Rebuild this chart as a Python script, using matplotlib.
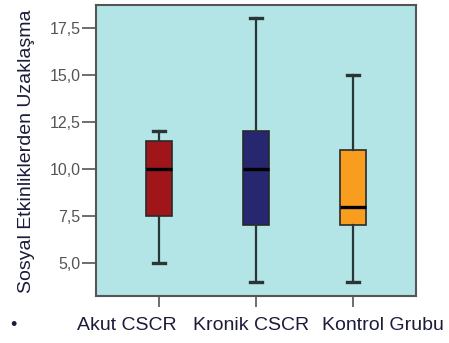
import matplotlib
matplotlib.use("Agg")
import matplotlib.pyplot as plt
from matplotlib.ticker import FixedLocator, FuncFormatter

plt.rcParams['font.family'] = ['Liberation Sans', 'DejaVu Sans']

categories = ["Akut CSCR", "Kronik CSCR", "Kontrol Grubu"]
whisker_low = [5.0, 4.0, 4.0]
q1 = [7.5, 7.0, 7.0]
medians = [10.0, 10.0, 8.0]
q3 = [11.5, 12.0, 11.0]
whisker_high = [12.0, 18.0, 15.0]
colors = ["#a01519", "#26276e", "#f99d1f"]
yticks = [5.0, 7.5, 10.0, 12.5, 15.0, 17.5]

# horizontal centres of the category captions, in figure pixels
caption_x = [127, 251, 383]

stats = [
    dict(label=c, whislo=lo, q1=a, med=m, q3=b, whishi=hi, fliers=[])
    for c, lo, a, m, b, hi in zip(categories, whisker_low, q1, medians, q3, whisker_high)
]

W, H = 449, 343
fig = plt.figure(figsize=(W / 100, H / 100), dpi=100)
ax = fig.add_axes([96 / W, 1 - 296 / H, 320 / W, 291 / H])
ax.set_facecolor("#b3e5e6")

bp = ax.bxp(stats, positions=[1, 2, 3], widths=0.26, patch_artist=True,
            showfliers=False,
            boxprops=dict(edgecolor="#2a2a2a", linewidth=1.2),
            medianprops=dict(color="black", linewidth=2.4),
            whiskerprops=dict(color="#2a3535", linewidth=1.6),
            capprops=dict(color="#2a3535", linewidth=2.4),
            capwidths=0.13)
for patch, col in zip(bp["boxes"], colors):
    patch.set_facecolor(col)

ax.set_xlim(0.35, 3.65)
ax.set_ylim(3.25, 18.7)
ax.yaxis.set_major_locator(FixedLocator(yticks))
ax.yaxis.set_major_formatter(FuncFormatter(lambda v, p: f"{v:.1f}".replace(".", ",")))
ax.set_xticks([1, 2, 3])
ax.set_xticklabels([])

for s in ax.spines.values():
    s.set_color("#555555")
    s.set_linewidth(1.5)

ax.tick_params(axis="y", direction="out", length=10, width=1.2, color="#555555",
               labelcolor="#555555", labelsize=11.5, pad=1)
ax.tick_params(axis="x", direction="out", length=8, width=1.2, color="#555555")

for cx, name in zip(caption_x, categories):
    fig.text(cx / W, 1 - 325 / H, name, fontsize=14, color="#1c1c3a",
             ha="center", va="center")

fig.text(27 / W, 1 - 151 / H, "Sosyal Etkinliklerden Uzaklaşma", fontsize=14,
         color="#1c1c3a", rotation=90, ha="center", va="center")

fig.text(13 / W, 1 - 326 / H, "•", fontsize=13, color="#1c1c3a", ha="center", va="center")

fig.savefig("out.png", dpi=100)
